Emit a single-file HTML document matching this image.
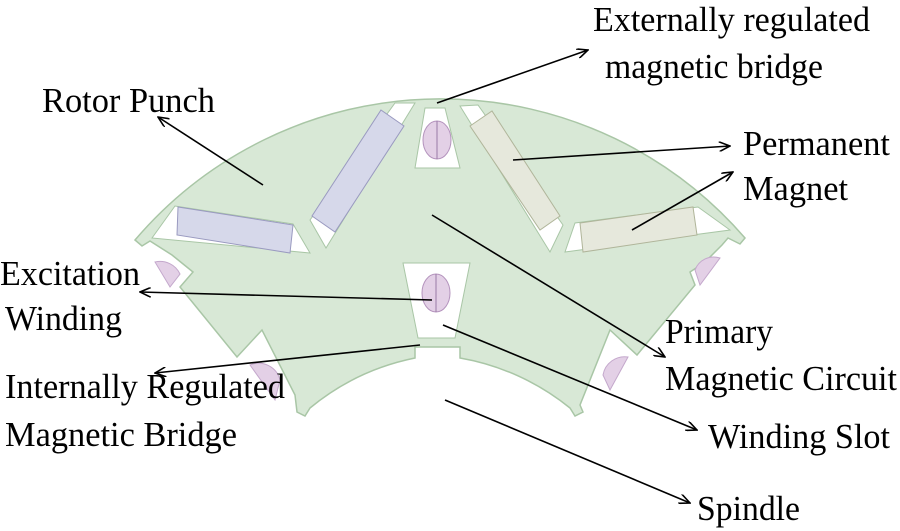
<!DOCTYPE html>
<html><head><meta charset="utf-8"><style>
html,body{margin:0;padding:0;background:#fff;width:900px;height:531px;overflow:hidden}
text{font-family:"Liberation Serif",serif;font-size:35px;fill:#000}
</style></head><body>
<svg width="900" height="531" viewBox="0 0 900 531" xmlns="http://www.w3.org/2000/svg">
<defs><marker id="a" markerWidth="12" markerHeight="10" refX="11" refY="5" orient="auto" markerUnits="userSpaceOnUse"><path d="M0,0 L11,5 L0,10" fill="none" stroke="#000" stroke-width="1.6"/></marker></defs>
<path d="M135,240 A402,402 0 0 1 745,238 L740,244 L728,238 L722,245 L705,262 L690,272 L695,285 L637,355 L610,330 L580,405 L583,412 L575,416 L570,408 A240,240 0 0 0 460,358 L460,347 L415,347 L415,358 A240,240 0 0 0 310,408 L305,416 L297,412 L295,395 L262,330 L237,357 L180,287 L193,272 L172,255 L150,241 L142,246 Z" fill="#d8e8d6" stroke="#a9c6a6" stroke-width="1.5"/>
<path d="M152,238 L175,206 L293,224 L310,253 Z" fill="#fff" stroke="#a9c6a6"/>
<polygon points="178,207 293,225 290,253 177,235" fill="#d6d8ea" stroke="#9a9ac0"/>
<path d="M310,220 L395,103 L415,103 L326,248 Z" fill="#fff" stroke="#a9c6a6"/>
<polygon points="381,110 404,126 335,232 312,216" fill="#d6d8ea" stroke="#9a9ac0"/>
<polygon points="425,108 445,108 460,168 415,168" fill="#fff" stroke="#a9c6a6"/>
<ellipse cx="437" cy="140" rx="14" ry="19" fill="#e3d0e6" stroke="#b493bd"/>
<line x1="437" y1="121" x2="437" y2="159" stroke="#9a7aa6"/>
<path d="M460,106 L478,105 L563,225 L550,252 Z" fill="#fff" stroke="#a9c6a6"/>
<polygon points="470,126 492,111 560,216 540,230" fill="#e6e8dc" stroke="#b0b59a"/>
<path d="M565,252 L575,223 L698,207 L730,230 Z" fill="#fff" stroke="#a9c6a6"/>
<polygon points="580,223 693,207 697,235 583,252" fill="#e6e8dc" stroke="#b0b59a"/>
<polygon points="403,263 470,263 455,338 418,338" fill="#fff" stroke="#a9c6a6"/>
<ellipse cx="436" cy="293" rx="14" ry="19" fill="#e3d0e6" stroke="#b493bd"/>
<line x1="436" y1="274" x2="436" y2="312" stroke="#9a7aa6"/>
<path d="M155,262 A22,22 0 0 1 180,274 L170,287 Z" fill="#e3d0e6" stroke="#c4a8cc"/>
<path d="M250,365 A22,22 0 0 1 280,380 L275,400 Z" fill="#e3d0e6" stroke="#c4a8cc"/>
<path d="M720,258 A20,20 0 0 0 695,270 L700,285 Z" fill="#e3d0e6" stroke="#c4a8cc"/>
<path d="M628,357 A22,22 0 0 0 603,375 L610,390 Z" fill="#e3d0e6" stroke="#c4a8cc"/>
<g stroke="#000" stroke-width="1.6" fill="none">
<line x1="437" y1="103" x2="588" y2="50" marker-end="url(#a)"/>
<line x1="263" y1="185" x2="158" y2="117" marker-end="url(#a)"/>
<line x1="513" y1="160" x2="730" y2="146" marker-end="url(#a)"/>
<line x1="632" y1="230" x2="733" y2="172" marker-end="url(#a)"/>
<line x1="432" y1="300" x2="140" y2="292" marker-end="url(#a)"/>
<line x1="432" y1="215" x2="665" y2="357" marker-end="url(#a)"/>
<line x1="420" y1="345" x2="155" y2="373" marker-end="url(#a)"/>
<line x1="443" y1="325" x2="697" y2="430" marker-end="url(#a)"/>
<line x1="445" y1="400" x2="690" y2="503" marker-end="url(#a)"/>
</g>
<text x="593" y="31" textLength="277" lengthAdjust="spacingAndGlyphs">Externally regulated</text>
<text x="605" y="78" textLength="218" lengthAdjust="spacingAndGlyphs">magnetic bridge</text>
<text x="42" y="112" textLength="173" lengthAdjust="spacingAndGlyphs">Rotor Punch</text>
<text x="743" y="155" textLength="147" lengthAdjust="spacingAndGlyphs">Permanent</text>
<text x="743" y="200" textLength="105" lengthAdjust="spacingAndGlyphs">Magnet</text>
<text x="0" y="285" textLength="140" lengthAdjust="spacingAndGlyphs">Excitation</text>
<text x="5" y="330" textLength="117" lengthAdjust="spacingAndGlyphs">Winding</text>
<text x="665" y="343" textLength="108" lengthAdjust="spacingAndGlyphs">Primary</text>
<text x="665" y="390" textLength="232" lengthAdjust="spacingAndGlyphs">Magnetic Circuit</text>
<text x="5" y="398" textLength="280" lengthAdjust="spacingAndGlyphs">Internally Regulated</text>
<text x="5" y="446" textLength="232" lengthAdjust="spacingAndGlyphs">Magnetic Bridge</text>
<text x="708" y="448" textLength="182" lengthAdjust="spacingAndGlyphs">Winding Slot</text>
<text x="697" y="520" textLength="103" lengthAdjust="spacingAndGlyphs">Spindle</text>
</svg>
</body></html>
